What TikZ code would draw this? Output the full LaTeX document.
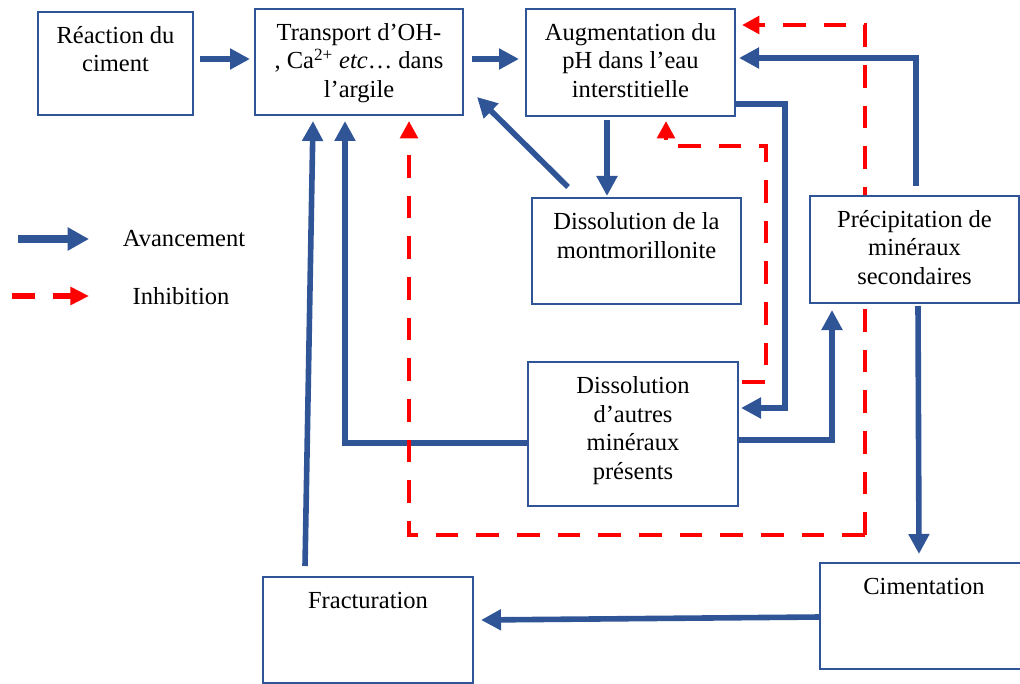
\documentclass[tikz,border=0pt]{standalone}
\usepackage{fontspec}
\setmainfont{Liberation Serif}
\usetikzlibrary{arrows.meta,calc}
\definecolor{advblue}{RGB}{47,85,151}
\definecolor{inhred}{RGB}{255,0,0}
\newlength{\pxu}\setlength{\pxu}{0.75pt}
\newcommand{\bt}[3]{\parbox[c][#2\pxu][t]{#1\pxu}{\centering\rule{0pt}{23.5pt}#3}}
\tikzset{
  boxnode/.style={draw=advblue, line width=1pt, fill=white, rectangle, inner sep=0pt, outer sep=0pt},
  adv/.style={draw=advblue, line width=4.2pt, -{Triangle[length=15pt,width=15pt]}},
  inh/.style={draw=inhred, line width=3.4pt, dash pattern=on 17pt off 13.5pt, -{Triangle[length=13pt,width=13pt]}},
  inhnohead/.style={draw=inhred, line width=3.4pt, dash pattern=on 17pt off 13.5pt},
  lbl/.style={inner sep=0pt, font=\fontsize{18.4}{21.5}\selectfont}
}
\begin{document}
\begin{tikzpicture}[x=0.75pt,y=-0.75pt, font=\fontsize{18.4}{21.5}\selectfont]
\useasboundingbox (0,0) rectangle (1020,684);

% red inhibition path hidden behind the "Précipitation" box
\coordinate (rc) at (865,535);
\coordinate (augR) at (742,25);

% boxes
\node[boxnode] (rea) at (115.5,63.5) {\bt{155}{103}{Réaction du\\ciment}};
\node[boxnode] (tra) at (359,62) {\bt{208}{106}{Transport d’OH-\\, Ca\textsuperscript{2+} \textit{etc}… dans\\l’argile}};
\node[boxnode] (aug) at (630.5,62.5) {\bt{209}{107}{Augmentation du\\pH dans l’eau\\interstitielle}};
\node[boxnode] (dmo) at (636.5,251) {\bt{209}{106}{Dissolution de la\\montmorillonite}};
\node[boxnode] (dau) at (633,434) {\bt{210}{144}{Dissolution\\d’autres\\minéraux\\présents}};
\node[boxnode] (fra) at (368,630) {\bt{210}{106}{Fracturation}};
\node[boxnode] (cim) at (924,616) {\bt{208}{106}{Cimentation}};

\draw[inh] (rc) |- ([shift={(7,-37.5)}]aug.east);

\node[boxnode] (pre) at (914.5,249.5) {\bt{209}{107}{Précipitation de\\minéraux\\secondaires}};

% advancement arrows
\draw[adv] ([shift={(7,-4.5)}]rea.east) -- ([shift={(-5,-3)}]tra.west);
\draw[adv] ([shift={(9,-3)}]tra.east) -- ([shift={(-7,-3.5)}]aug.west);
\draw[adv] ([shift={(-23.5,4)}]aug.south) -- ([shift={(-29.5,-2)}]dmo.north);
\draw[adv] ([shift={(-68.5,-11)}]dmo.north) -- ([shift={(14,35)}]tra.east);
\draw[adv] ([shift={(1.5,-10)}]pre.north) |- ([shift={(4,-4.5)}]aug.east);
\draw[adv] ([shift={(0,41.5)}]aug.east) -- ++(50,0) |- ([shift={(3,-26)}]dau.east);
\draw[adv] ([shift={(0,6)}]dau.east) -| ([shift={(-82.5,7)}]pre.south);
\draw[adv] ([shift={(0,9)}]dau.west) -| ([shift={(-14,6)}]tra.south);
\draw[adv] ([shift={(-63,-11)}]fra.north) -- ([shift={(-46,6)}]tra.south);
\draw[adv] ([shift={(3.5,3)}]pre.south) -- ([shift={(-5,-9)}]cim.north);
\draw[adv] ([shift={(0,1)}]cim.west) -- ([shift={(8,-10)}]fra.east);

% inhibition arrows
\draw[inh] (rc) -| ([shift={(50,6)}]tra.south);
\draw[inh] ([shift={(4,-52)}]dau.east) -- ++(24,0) |- ([shift={(35.5,30)}]aug.south) -- ([shift={(35.5,5)}]aug.south);

% legend
\coordinate (la1) at (18,239);
\coordinate (la2) at (89,239);
\coordinate (li1) at (12,296);
\coordinate (li2) at (89,296);
\draw[draw=advblue, line width=5.5pt, -{Triangle[length=16pt,width=16.5pt]}] (la1) -- (la2);
\draw[draw=inhred, line width=4.2pt, dash pattern=on 17pt off 13.5pt, -{Triangle[length=14pt,width=13pt]}] (li1) -- (li2);
\node[lbl] (lta) at (184,239) {Avancement};
\node[lbl] (lti) at (181,296) {Inhibition};
\end{tikzpicture}
\end{document}
